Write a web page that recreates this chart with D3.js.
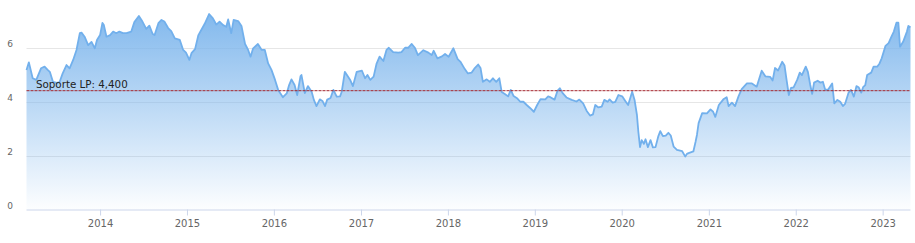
<!DOCTYPE html>
<html><head><meta charset="utf-8">
<script src="https://cdn.jsdelivr.net/npm/d3@7"></script>
<style>html,body{margin:0;padding:0;background:#fff;}svg{display:block;}</style>
</head><body>
<svg id="chart" width="915" height="243"></svg>
<script>
const dates = [
"2013-02-26","2013-03-08","2013-03-24","2013-04-08","2013-04-28","2013-05-13","2013-05-26","2013-06-04","2013-06-17","2013-07-03",
"2013-07-15","2013-07-28","2013-08-13","2013-08-26","2013-09-10","2013-09-24","2013-10-08","2013-10-15","2013-10-28","2013-11-12",
"2013-11-26","2013-12-10","2013-12-19","2014-01-01","2014-01-11","2014-01-17","2014-01-28","2014-02-12","2014-02-25","2014-03-10",
"2014-03-23","2014-04-07","2014-04-22","2014-05-12","2014-05-25","2014-06-13","2014-06-28","2014-07-14","2014-07-27","2014-08-10",
"2014-08-18","2014-09-03","2014-09-16","2014-09-28","2014-10-14","2014-10-27","2014-11-11","2014-12-02","2014-12-16","2014-12-28",
"2015-01-11","2015-01-20","2015-02-04","2015-02-18","2015-03-02","2015-03-16","2015-04-04","2015-04-20","2015-05-04","2015-05-18",
"2015-06-02","2015-06-15","2015-06-23","2015-07-06","2015-07-16","2015-08-04","2015-08-18","2015-09-02","2015-09-15","2015-09-25",
"2015-10-06","2015-10-26","2015-11-11","2015-11-24","2015-12-08","2015-12-22","2016-01-06","2016-01-19","2016-02-08","2016-02-24",
"2016-03-05","2016-03-15","2016-03-28","2016-04-08","2016-04-22","2016-04-26","2016-05-10","2016-05-23","2016-06-08","2016-06-17",
"2016-06-28","2016-07-12","2016-07-23","2016-08-03","2016-08-12","2016-08-26","2016-09-07","2016-09-21","2016-10-05","2016-10-12",
"2016-10-25","2016-11-16","2016-11-28","2016-12-14","2017-01-05","2017-01-18","2017-01-28","2017-02-09","2017-02-23","2017-03-07",
"2017-03-20","2017-04-05","2017-04-18","2017-04-28","2017-05-16","2017-06-07","2017-06-20","2017-07-05","2017-07-18","2017-08-02",
"2017-08-16","2017-08-28","2017-09-20","2017-10-11","2017-10-25","2017-11-02","2017-11-18","2017-12-07","2017-12-20","2018-01-04",
"2018-01-24","2018-02-11","2018-02-22","2018-03-13","2018-03-26","2018-04-11","2018-04-24","2018-05-08","2018-05-18","2018-05-28",
"2018-06-13","2018-06-26","2018-07-09","2018-07-23","2018-08-05","2018-08-15","2018-08-28","2018-09-11","2018-09-22","2018-10-04",
"2018-10-20","2018-11-01","2018-11-14","2018-11-28","2018-12-12","2018-12-28","2019-01-11","2019-01-25","2019-02-14","2019-02-26",
"2019-03-09","2019-03-25","2019-04-06","2019-04-16","2019-04-28","2019-05-14","2019-06-05","2019-06-25","2019-07-07","2019-07-23",
"2019-08-07","2019-08-21","2019-09-02","2019-09-12","2019-09-25","2019-10-09","2019-10-20","2019-11-03","2019-11-11","2019-11-24",
"2019-12-05","2019-12-18","2020-01-03","2020-01-16","2020-01-28","2020-02-14","2020-02-24","2020-03-05","2020-03-11","2020-03-18",
"2020-03-25","2020-04-03","2020-04-10","2020-04-20","2020-05-01","2020-05-11","2020-05-22","2020-06-03","2020-06-11","2020-06-22",
"2020-07-04","2020-07-15","2020-07-25","2020-08-06","2020-08-20","2020-09-11","2020-09-24","2020-10-01","2020-10-08","2020-10-28",
"2020-11-06","2020-11-12","2020-11-19","2020-12-04","2020-12-24","2021-01-08","2021-01-19","2021-01-28","2021-02-12","2021-03-03",
"2021-03-17","2021-03-25","2021-04-08","2021-04-21","2021-05-06","2021-05-19","2021-06-10","2021-07-01","2021-07-21","2021-08-11",
"2021-08-27","2021-09-16","2021-09-26","2021-10-06","2021-10-19","2021-11-05","2021-11-15","2021-11-23","2021-12-03","2021-12-12",
"2021-12-23","2022-01-07","2022-01-18","2022-01-27","2022-02-12","2022-02-21","2022-03-03","2022-03-11","2022-03-19","2022-04-03",
"2022-04-14","2022-04-25","2022-05-05","2022-05-18","2022-06-03","2022-06-12","2022-06-25","2022-07-07","2022-07-18","2022-07-27",
"2022-08-11","2022-08-21","2022-09-02","2022-09-13","2022-09-22","2022-10-03","2022-10-11","2022-10-20","2022-10-28","2022-11-14",
"2022-11-24","2022-12-09","2022-12-19","2022-12-28","2023-01-13","2023-01-26","2023-02-07","2023-02-17","2023-02-28","2023-03-08",
"2023-03-15","2023-03-28","2023-04-13","2023-04-19","2023-04-28"
];
const values = [
5.17,5.45,4.86,4.80,5.23,5.29,5.17,5.10,4.73,4.69,
4.72,5.04,5.35,5.23,5.54,5.91,6.53,6.55,6.40,6.09,
6.21,5.97,6.28,6.46,6.91,6.83,6.40,6.46,6.59,6.53,
6.59,6.53,6.53,6.59,6.94,7.17,6.96,6.69,6.81,6.50,
6.46,6.90,7.02,6.96,6.72,6.61,6.34,6.28,5.91,5.81,
5.54,5.79,5.94,6.46,6.65,6.87,7.24,7.08,6.85,6.96,
6.83,6.77,7.04,6.53,7.02,6.98,6.80,6.13,5.91,5.66,
5.97,6.13,5.91,5.91,5.41,5.17,4.80,4.43,4.16,4.30,
4.61,4.82,4.61,4.24,4.94,4.98,4.31,4.57,4.35,4.06,
3.83,4.08,4.02,3.83,4.07,4.13,4.43,4.18,4.19,4.36,
5.10,4.81,4.57,5.10,5.14,4.86,4.98,4.80,4.92,5.39,
5.66,5.50,5.91,5.99,5.83,5.81,5.83,5.99,5.99,6.13,
5.98,5.72,5.90,5.81,5.72,5.88,5.60,5.67,5.76,5.66,
5.97,5.57,5.48,5.20,5.04,5.07,5.24,5.37,5.24,4.73,
4.82,4.73,4.86,4.73,4.86,4.35,4.28,4.19,4.43,4.20,
4.11,3.99,3.99,3.87,3.76,3.62,3.87,4.09,4.08,4.19,
4.15,4.07,4.39,4.49,4.31,4.15,4.06,4.00,4.07,3.93,
3.65,3.48,3.52,3.87,3.78,3.81,4.06,3.99,4.08,3.96,
3.99,4.24,4.19,4.02,3.87,4.36,4.06,3.50,2.87,2.31,
2.57,2.43,2.60,2.31,2.57,2.30,2.31,2.72,2.90,2.72,
2.74,2.84,2.74,2.33,2.21,2.16,1.96,2.06,2.09,2.15,
2.50,2.76,3.20,3.57,3.56,3.71,3.62,3.43,3.87,4.08,
4.16,3.83,3.96,3.83,4.20,4.46,4.67,4.67,4.55,5.14,
4.93,4.91,4.78,5.24,5.15,5.47,5.33,4.83,4.24,4.50,
4.52,4.80,5.07,4.98,5.29,5.10,4.61,4.28,4.70,4.77,
4.70,4.73,4.43,4.45,4.67,3.93,4.06,3.99,3.83,3.91,
4.33,4.43,4.18,4.57,4.53,4.33,4.53,4.61,4.98,5.07,
5.29,5.29,5.41,5.60,6.06,6.16,6.40,6.59,6.92,6.92,
6.03,6.21,6.59,6.80,6.75
];
const yTicks = [0, 2, 4, 6];
const xTickYears = [2014, 2015, 2016, 2017, 2018, 2019, 2020, 2021, 2022, 2023];
const supportLevel = 4.4;
const supportLabel = "Soporte LP: 4,400";

const parse = d3.timeParse("%Y-%m-%d");
const data = dates.map((d, i) => ({ date: parse(d), value: values[i] }));

const svg = d3.select("#chart");
const left = 26.5, right = 910.5, bottom = 209.5, gridTop = 47.5;

const x = d3.scaleTime().domain(d3.extent(data, d => d.date)).range([left, right]);
const y = d3.scaleLinear().domain([0, 6]).range([bottom, gridTop]);

const defs = svg.append("defs");
const grad = defs.append("linearGradient").attr("id", "areaGrad")
  .attr("x1", 0).attr("y1", 0).attr("x2", 0).attr("y2", 1);
grad.append("stop").attr("offset", "0%").attr("stop-color", "#7cb5ec").attr("stop-opacity", 0.95);
grad.append("stop").attr("offset", "100%").attr("stop-color", "#7cb5ec").attr("stop-opacity", 0.02);

// grid lines
svg.append("g").selectAll("line").data(yTicks.filter(t => t > 0)).join("line")
  .attr("x1", left).attr("x2", right)
  .attr("y1", d => Math.round(y(d)) + 0.5).attr("y2", d => Math.round(y(d)) + 0.5)
  .attr("stroke", "#e6e6e6").attr("stroke-width", 1);

// area
const area = d3.area().x(d => x(d.date)).y0(y(0)).y1(d => y(d.value)).curve(d3.curveLinear);
svg.append("path").datum(data).attr("d", area).attr("fill", "url(#areaGrad)");

const line = d3.line().x(d => x(d.date)).y(d => y(d.value)).curve(d3.curveLinear);
svg.append("path").datum(data).attr("d", line)
  .attr("fill", "none").attr("stroke", "#72b0ec").attr("stroke-width", 1.8)
  .attr("stroke-linejoin", "round");

// y labels
svg.append("g").selectAll("text").data(yTicks).join("text")
  .attr("x", 13).attr("y", d => y(d) - 0.5)
  .attr("text-anchor", "end")
  .attr("font-family", "DejaVu Sans, sans-serif").attr("font-size", 9)
  .attr("fill", "#666").text(d => d);

// x axis
const xAxis = d3.axisBottom(x)
  .tickValues(xTickYears.map(yr => new Date(yr, 0, 1)))
  .tickFormat(d3.timeFormat("%Y"))
  .tickSize(6).tickPadding(4);
const gx = svg.append("g").attr("transform", `translate(0,${bottom})`).call(xAxis);
gx.select(".domain").attr("stroke", "#ccd6eb").attr("d", `M${left},0.5H${right}`);
gx.selectAll(".tick line").attr("stroke", "#ccd6eb");
gx.selectAll(".tick text").attr("font-family", "DejaVu Sans, sans-serif")
  .attr("font-size", 10).attr("fill", "#666");

// support line
svg.append("line")
  .attr("x1", left).attr("x2", right)
  .attr("y1", y(supportLevel)).attr("y2", y(supportLevel))
  .attr("stroke", "#a3262e").attr("stroke-width", 1).attr("stroke-dasharray", "3,1");
svg.append("text")
  .attr("x", left + 9.5).attr("y", y(supportLevel) - 3)
  .attr("font-family", "DejaVu Sans, sans-serif").attr("font-size", 10.3)
  .attr("fill", "#222").text(supportLabel);
</script>
</body></html>
